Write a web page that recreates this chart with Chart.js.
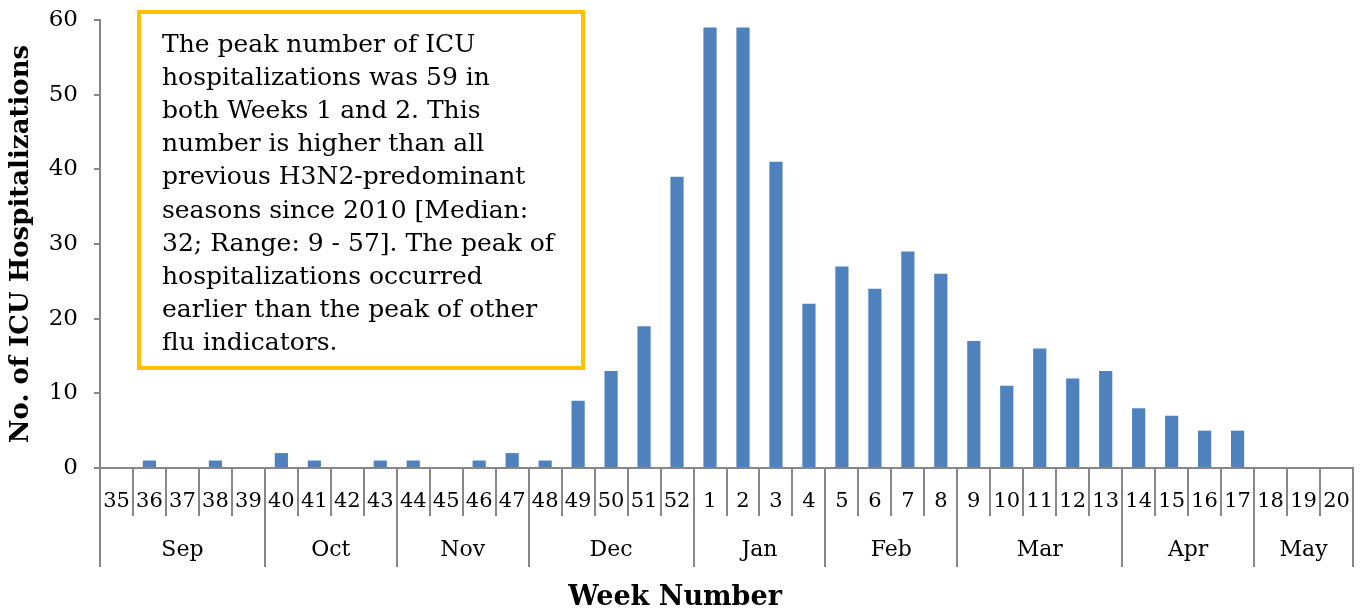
<!DOCTYPE html>
<html>
<head>
<meta charset="utf-8">
<script src="https://cdn.jsdelivr.net/npm/chart.js@4/dist/chart.umd.min.js"></script>
<style>
  html, body { margin: 0; padding: 0; background: #ffffff; }
  #wrap { width: 1363px; height: 612px; position: relative; }
</style>
</head>
<body>
<div id="wrap"><canvas id="c" width="1363" height="612"></canvas></div>
<script>
const weeks = ['35','36','37','38','39','40','41','42','43','44','45','46','47','48','49','50','51','52',
               '1','2','3','4','5','6','7','8','9','10','11','12','13','14','15','16','17','18','19','20'];
const icuCases = [0,1,0,1,0,2,1,0,1,1,0,1,2,1,9,13,19,39,
                  59,59,41,22,27,24,29,26,17,11,16,12,13,8,7,5,5,0,0,0];
const months = ['Sep','Oct','Nov','Dec','Jan','Feb','Mar','Apr','May'];
const weeksPerMonth = [5,4,4,5,4,4,5,4,3];
const yTicks = [0,10,20,30,40,50,60];
const noteLines = [
  'The peak number of ICU',
  'hospitalizations was 59 in',
  'both Weeks 1 and 2. This',
  'number is higher than all',
  'previous H3N2-predominant',
  'seasons since 2010 [Median:',
  '32; Range: 9 - 57]. The peak of',
  'hospitalizations occurred',
  'earlier than the peak of other',
  'flu indicators.'
];
const xTitle = 'Week Number';
const yTitle = 'No. of ICU Hospitalizations';

const FONT = '"DejaVu Serif", "Liberation Serif", serif';
const AXIS = '#878787';

const overlay = {
  id: 'overlay',
  afterDraw(chart) {
    const ctx = chart.ctx;
    const x = chart.scales.x;
    const n = weeks.length;
    const catW = (x.right - x.left) / n;
    const base = chart.chartArea.bottom;
    const edge = i => (i >= n ? x.right : x.getPixelForValue(i) - catW / 2);
    ctx.save();
    ctx.strokeStyle = AXIS;
    ctx.lineWidth = 2;
    for (let i = 0; i <= n; i++) {
      const px = Math.round(edge(i));
      ctx.beginPath(); ctx.moveTo(px, base); ctx.lineTo(px, base + 48); ctx.stroke();
    }
    ctx.fillStyle = '#000';
    ctx.font = '21px ' + FONT;
    ctx.textAlign = 'center';
    ctx.textBaseline = 'middle';
    weeks.forEach((w, i) => ctx.fillText(w, x.getPixelForValue(i), base + 34));
    let start = 0;
    const mb = [0];
    weeksPerMonth.forEach(c => { start += c; mb.push(start); });
    mb.forEach(i => {
      const px = Math.round(edge(i));
      ctx.beginPath(); ctx.moveTo(px, base); ctx.lineTo(px, base + 99); ctx.stroke();
    });
    ctx.font = '22px ' + FONT;
    months.forEach((m, k) => {
      const cx = (edge(mb[k]) + edge(mb[k + 1])) / 2;
      ctx.fillText(m, cx, base + 82);
    });
    ctx.font = 'bold 27px ' + FONT;
    ctx.fillText(xTitle, 675, 598);
    ctx.strokeStyle = '#FFC000';
    ctx.lineWidth = 4;
    ctx.fillStyle = '#ffffff';
    ctx.beginPath();
    ctx.rect(139, 12, 444, 356);
    ctx.fill();
    ctx.stroke();
    ctx.fillStyle = '#000';
    ctx.textAlign = 'left';
    ctx.textBaseline = 'alphabetic';
    ctx.font = '25px ' + FONT;
    noteLines.forEach((l, k) => ctx.fillText(l, 162, 52 + k * 33.1));
    ctx.restore();
  }
};

new Chart(document.getElementById('c'), {
  type: 'bar',
  data: {
    labels: weeks,
    datasets: [{
      data: icuCases,
      backgroundColor: '#4F81BD',
      borderWidth: 0,
      categoryPercentage: 1.0,
      barPercentage: 0.4
    }]
  },
  options: {
    responsive: false,
    animation: false,
    devicePixelRatio: 1,
    layout: { padding: { top: 20, right: 10, bottom: 0, left: 0 } },
    plugins: { legend: { display: false }, tooltip: { enabled: false } },
    scales: {
      x: {
        grid: { display: false },
        border: { display: true, color: AXIS, width: 2 },
        ticks: { display: false },
        afterFit(s) { s.height = 144; s.paddingLeft = 0; s.paddingRight = 0; }
      },
      y: {
        min: 0, max: 60,
        afterBuildTicks(s) { s.ticks = yTicks.map(v => ({ value: v })); },
        grid: { drawOnChartArea: false, drawTicks: true, tickLength: 6, color: AXIS, lineWidth: 2 },
        border: { display: true, color: AXIS, width: 2 },
        ticks: { color: '#000', font: { family: FONT, size: 23 }, padding: 16 },
        title: { display: true, text: yTitle, color: '#000', font: { family: FONT, size: 26, weight: 'bold' }, padding: { top: 6, bottom: 0 } },
        afterFit(s) { s.width = 100; s.paddingTop = 0; s.paddingBottom = 0; }
      }
    }
  },
  plugins: [overlay]
});
</script>
</body>
</html>
